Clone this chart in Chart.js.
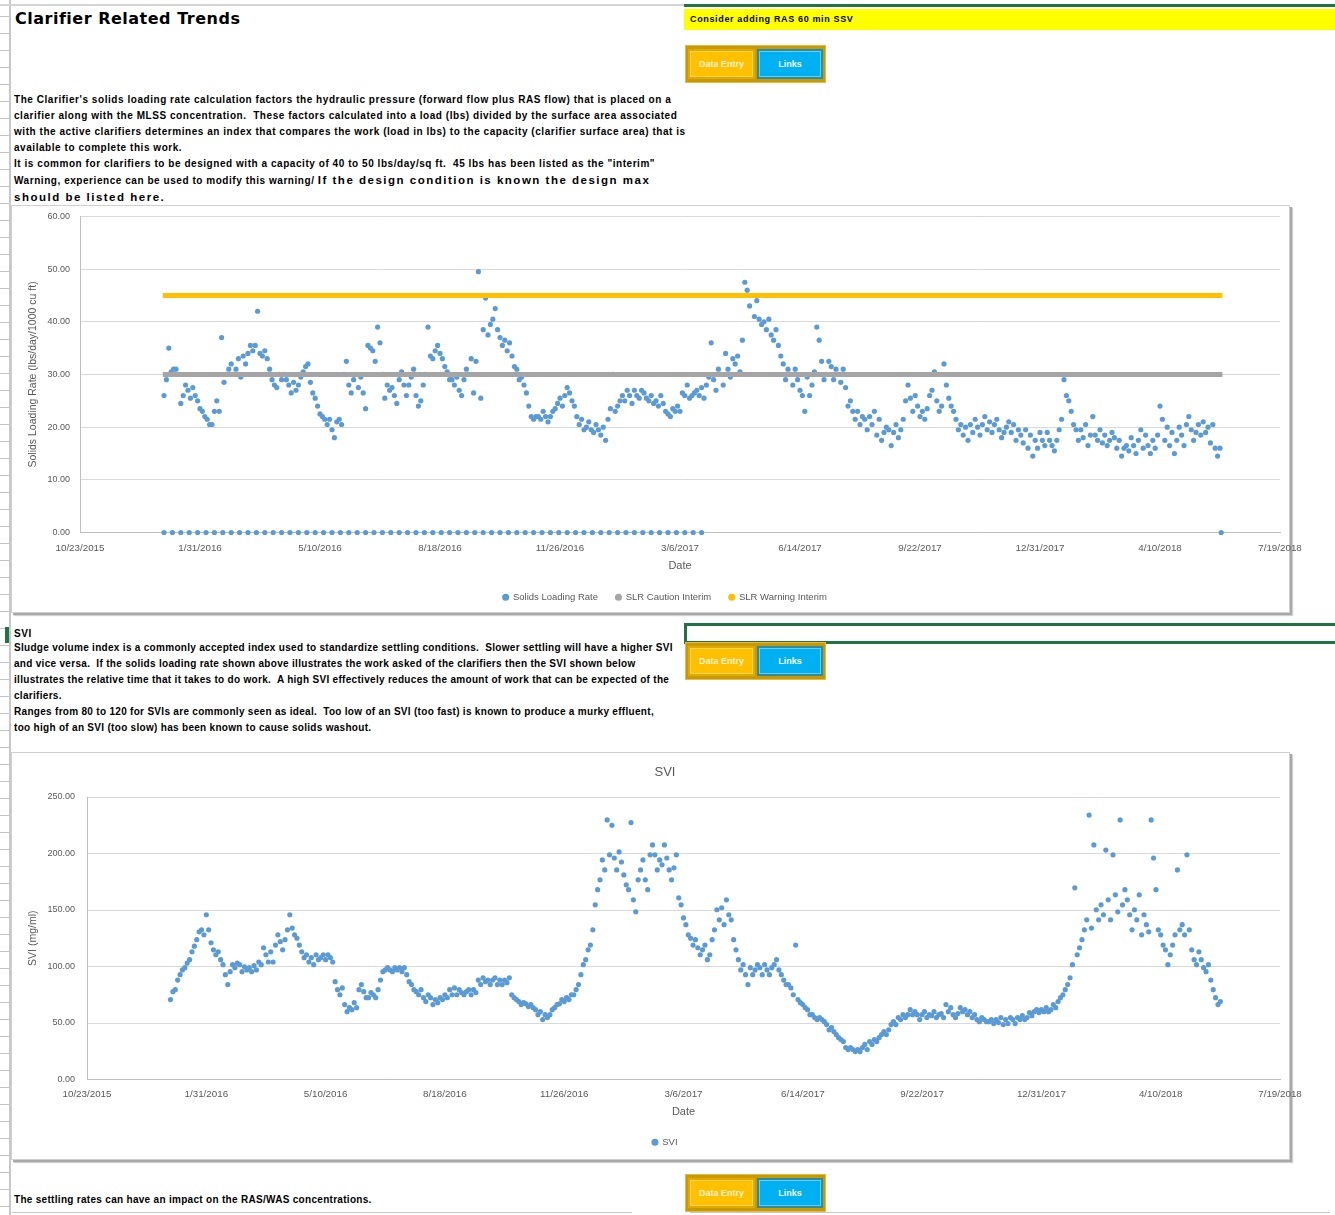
<!DOCTYPE html>
<html>
<head>
<meta charset="utf-8">
<script src="https://cdn.jsdelivr.net/npm/chart.js@4.4.1/dist/chart.umd.min.js"></script>
<style>
  html, body { margin: 0; padding: 0; background: #fff; }
  body { width: 1335px; height: 1215px; position: relative; overflow: hidden; font-family: 'Liberation Sans', Arial, sans-serif; }
  .abs { position: absolute; }
  .ruler { left: 0; top: 0; width: 9px; height: 1215px;
    background: repeating-linear-gradient(to bottom, transparent 0 16px, #c4c4c4 16px 17px);
    border-right: 2px solid #c8c8c8; }
  .topline { left: 0; top: 4px; width: 684px; height: 2px; background: #d4d4d4; }
  .title { left: 15px; top: 9px; font: bold 16px 'DejaVu Sans', sans-serif; letter-spacing: 0.5px; color: #000; }
  .para { left: 14px; font: bold 10px 'Liberation Sans', Arial, sans-serif; letter-spacing: 0.55px; color: #000; line-height: 16px; white-space: nowrap; }
  .para.tight { letter-spacing: 0.3px; }
  .big { font-size: 11.5px; letter-spacing: 1.5px; }
  .banner-g { left: 684px; top: 4px; width: 651px; height: 3px; background: #217346; }
  .banner-y { left: 684px; top: 9px; width: 651px; height: 21px; background: #ffff00;
    font: bold 9px 'Liberation Sans', Arial, sans-serif; letter-spacing: 0.65px; line-height: 21px; padding-left: 6px; box-sizing: border-box; }
  .btns { left: 685px; width: 141px; height: 38px; background: #c79a00; box-sizing: border-box; border: 1px solid #e5b84a; }
  .b { position: absolute; top: 3px; height: 30px; box-sizing: border-box; font: bold 9px 'Liberation Sans', Arial, sans-serif;
    display: flex; align-items: center; justify-content: center; }
  .de { left: 2px; width: 67px; background: #ffc000; border: 2px solid #e3a900; box-shadow: inset 0 0 0 1px #ffd35c; color: #fff3cf; }
  .lk { left: 71px; width: 66px; background: #00b0f0; border: 2px solid #2f8aa6; box-shadow: inset 0 0 0 1px #62d0f4; color: #f2fbff; }
  .box { left: 11px; width: 1279px; box-sizing: border-box; border: 1px solid #d0d0d0; background: #fff;
    box-shadow: 2px 2px 0 #a8a8a8, 3px 3px 1px #d0d0d0; }
  .sel { left: 684px; top: 623px; width: 660px; height: 21px; box-sizing: border-box; border: 3px solid #217346; }
  .mark { left: 5px; top: 627px; width: 4px; height: 16px; background: #217346; }
  canvas.chart { position: absolute; left: 0; }
</style>
</head>
<body>
<div class="abs ruler"></div>
<div class="abs topline"></div>
<div class="abs title">Clarifier Related Trends</div>

<div class="abs para" style="top:92px">
  <div>The Clarifier's solids loading rate calculation factors the hydraulic pressure (forward flow plus RAS flow) that is placed on a</div>
  <div>clarifier along with the MLSS concentration.&nbsp; These factors calculated into a load (lbs) divided by the surface area associated</div>
  <div>with the active clarifiers determines an index that compares the work (load in lbs) to the capacity (clarifier surface area) that is</div>
  <div>available to complete this work.</div>
  <div>It is common for clarifiers to be designed with a capacity of 40 to 50 lbs/day/sq ft.&nbsp; 45 lbs has been listed as the "interim"</div>
  <div>Warning, experience can be used to modify this warning/ <span class="big">If the design condition is known the design max</span></div>
  <div><span class="big">should be listed here.</span></div>
</div>

<div class="abs banner-g"></div>
<div class="abs banner-y">Consider adding RAS 60 min SSV</div>
<div class="abs btns" style="top:45px"><div class="b de">Data Entry</div><div class="b lk">Links</div></div>

<div class="abs box" style="top:205px;height:408px"></div>
<canvas id="slrChart" class="chart" style="top:201px"></canvas>

<div class="abs mark"></div>
<div class="abs para" style="top:626px">SVI</div>
<div class="abs para tight" style="top:640px">
  <div>Sludge volume index is a commonly accepted index used to standardize settling conditions.&nbsp; Slower settling will have a higher SVI</div>
  <div>and vice versa.&nbsp; If the solids loading rate shown above illustrates the work asked of the clarifiers then the SVI shown below</div>
  <div>illustrates the relative time that it takes to do work.&nbsp; A high SVI effectively reduces the amount of work that can be expected of the</div>
  <div>clarifiers.</div>
  <div>Ranges from 80 to 120 for SVIs are commonly seen as ideal.&nbsp; Too low of an SVI (too fast) is known to produce a murky effluent,</div>
  <div>too high of an SVI (too slow) has been known to cause solids washout.</div>
</div>
<div class="abs sel"></div>
<div class="abs btns" style="top:642px"><div class="b de">Data Entry</div><div class="b lk">Links</div></div>

<div class="abs box" style="top:752px;height:408px"></div>
<canvas id="sviChart" class="chart" style="top:752px"></canvas>

<div class="abs para tight" style="top:1192px">The settling rates can have an impact on the RAS/WAS concentrations.</div>
<div class="abs btns" style="top:1174px"><div class="b de">Data Entry</div><div class="b lk">Links</div></div>
<div class="abs" style="left:12px;top:1212px;width:620px;height:1px;background:#c8c8c8"></div>
<div class="abs" style="left:690px;top:1212px;width:640px;height:1px;background:#c8c8c8"></div>

<script>
// ---- data (dates are Excel serial day numbers) ----
const sampleDays = [
  42370,42372,42374,42376,42378,42380,42382,42384,42386,42388,
  42390,42392,42394,42396,42398,42400,42402,42404,42406,42408,
  42410,42412,42414,42416,42418,42420,42422,42424,42426,42428,
  42430,42432,42434,42436,42438,42440,42442,42444,42446,42448,
  42450,42452,42454,42456,42458,42460,42462,42464,42466,42468,
  42470,42472,42474,42476,42478,42480,42482,42484,42486,42488,
  42490,42492,42494,42496,42498,42500,42502,42504,42506,42508,
  42510,42512,42514,42516,42518,42520,42522,42524,42526,42528,
  42530,42532,42534,42536,42538,42540,42542,42544,42546,42548,
  42550,42552,42554,42556,42558,42560,42562,42564,42566,42568,
  42570,42572,42574,42576,42578,42580,42582,42584,42586,42588,
  42590,42592,42594,42596,42598,42600,42602,42604,42606,42608,
  42610,42612,42614,42616,42618,42620,42622,42624,42626,42628,
  42630,42632,42634,42636,42638,42640,42642,42644,42646,42648,
  42650,42652,42654,42656,42658,42660,42662,42664,42666,42668,
  42670,42672,42674,42676,42678,42680,42682,42684,42686,42688,
  42690,42692,42694,42696,42698,42700,42702,42704,42706,42708,
  42710,42712,42714,42716,42718,42720,42722,42724,42726,42728,
  42730,42732,42734,42736,42738,42740,42742,42744,42746,42748,
  42750,42752,42754,42756,42758,42760,42762,42764,42766,42768,
  42770,42772,42774,42776,42778,42780,42782,42784,42786,42788,
  42790,42792,42794,42796,42798,42800,42802,42804,42806,42808,
  42810,42812,42814,42816,42818,42820,42822,42824,42826,42828,
  42830,42832,42834,42836,42838,42840,42842,42844,42846,42848,
  42850,42852,42854,42856,42858,42860,42862,42864,42866,42868,
  42870,42872,42874,42876,42878,42880,42882,42884,42886,42888,
  42890,42892,42894,42896,42898,42900,42902,42904,42906,42908,
  42910,42912,42914,42916,42918,42920,42922,42924,42926,42928,
  42930,42932,42934,42936,42938,42940,42942,42944,42946,42948,
  42950,42952,42954,42956,42958,42960,42962,42964,42966,42968,
  42970,42972,42974,42976,42978,42980,42982,42984,42986,42988,
  42990,42992,42994,42996,42998,43000,43002,43004,43006,43008,
  43010,43012,43014,43016,43018,43020,43022,43024,43026,43028,
  43030,43032,43034,43036,43038,43040,43042,43044,43046,43048,
  43050,43052,43054,43056,43058,43060,43062,43064,43066,43068,
  43070,43072,43074,43076,43078,43080,43082,43084,43086,43088,
  43090,43092,43094,43096,43098,43100,43102,43104,43106,43108,
  43110,43112,43114,43116,43118,43120,43122,43124,43126,43128,
  43130,43132,43134,43136,43138,43140,43142,43144,43146,43148,
  43150,43152,43154,43156,43158,43160,43162,43164,43166,43168,
  43170,43172,43174,43176,43178,43180,43182,43184,43186,43188,
  43190,43192,43194,43196,43198,43200,43202,43204,43206,43208,
  43210,43212,43214,43216,43218,43220,43222,43224,43226,43228,
  43230,43232,43234,43236,43238,43240,43242,43244,43246,43248,
  43250
];

// solids loading rate, lbs/day/1000 cu ft
const slrValues = [
  26,29,35,30.5,31,31,30,24.5,26,28,
  27,25.5,27.5,26,25,23.5,23,22,21.5,20.5,
  20.5,23,25,23,37,28.5,30,31,32,30,
  31,33,29.5,33.5,32,34,35.5,34.5,35.5,42,
  34,33.5,34.5,33,31,29,28,27.5,30,29,
  30,29,28,26.5,28.5,27,28,29.5,30.5,31.5,
  32,28.5,26.5,25.5,24,22.5,22,21.5,20.5,21.5,
  19.5,18,21,21.5,20.5,30,32.5,28,26.5,29,
  30,27.5,29.5,26.5,23.5,35.5,35,34.5,32.5,39,
  36,30,25.5,28,27,27.5,26,24.5,29,30.5,
  28,26,28,29.5,31,26,24,25,28,30,
  39,33.5,33,34.5,35.5,34,33,31.5,30.5,29,
  29,28,29.5,27,26,29,31,30,33,26.5,
  32.5,49.5,25.5,38.5,44.5,37.5,39.5,40.5,42.5,38.5,
  37,35.5,36.5,34.5,36,33.5,31.5,31,29,29.5,
  28,26.5,24,22,21.5,22,22,21.5,23,22,
  21,22,23,23.5,24.5,25.5,24,26,27.5,26.5,
  25,24,22,20.5,21.5,19.5,20,21,19.5,19,
  20.5,19.5,18.5,20,17.5,21.5,23.5,30,23,24,
  25,26,25,27,26,24.5,27,26,25.5,27,
  26.5,25.5,25,26,24.5,25,24,26,24.5,23,
  22.5,22,23.5,23,24,23,26.5,26,28,25.5,
  26,26.5,27,26,27.5,25.5,28,29.5,36,29,
  27,31,30,28,34,31,29.5,33,32,33.5,
  30.5,36.5,47.5,46,43,45,41,44,40.5,39.5,
  40,38.5,40.5,37.5,36.5,38.5,35.5,33.5,32,29,
  31,30,28,31,29,27,26,23,29.5,26,
  28,30.5,39,36.5,32.5,29,30,32.5,31.5,29,
  31,30,28.5,31,27.5,24,25,23,21.5,23,
  20.5,22,21.5,19.5,22,20.5,23,18.5,21.5,17.5,
  19,20,19.5,16.5,19,20.5,18,19.5,21.5,25,
  28,25.5,23,26,24,22,23,21.5,23.5,26,
  27,30.5,25,23,24,32,28,25.5,24,23,
  21.5,19.5,20.5,18.5,20,17.5,20.5,19,21.5,20,
  18.5,20.5,22,19.5,21,19,20.5,21.5,19.5,18,
  19,20,21,19,20.5,17.5,19.5,18.5,17,19.5,
  16,18.5,14.5,17.5,16,19,17.5,16.5,19,17.5,
  16.5,15.5,17.5,19.5,21.5,29,26,25,23,20.5,
  19.5,17.5,19.5,18,20.5,16.5,18.5,22,18.5,17.5,
  19.5,17,18.5,16.5,17.5,19,18,16,17.5,14.5,
  16,16.5,15.5,18,16.5,15,17.5,19.5,16,18.5,
  16.5,15,17.5,16,18.5,24,21.5,17.5,20,16.5,
  19,15,17.5,20,18.5,16.5,20.5,22,19.5,17.5,
  19,20.5,18.5,21,19,20,17,20.5,16,14.5,
  16
];

// days with no reading (plotted as zero)
const slrZeroDays = [
  42370,42377,42384,42391,42398,42405,42412,42419,42426,42433,
  42440,42447,42454,42461,42468,42475,42482,42489,42496,42503,
  42510,42517,42524,42531,42538,42545,42552,42559,42566,42573,
  42580,42587,42594,42601,42608,42615,42622,42629,42636,42643,
  42650,42657,42664,42671,42678,42685,42692,42699,42706,42713,
  42720,42727,42734,42741,42748,42755,42762,42769,42776,42783,
  42790,42797,42804,42811,42818,43251
];
const slrZeroValues = [
  0,0,0,0,0,0,0,0,0,0, 0,0,0,0,0,0,0,0,0,0,
  0,0,0,0,0,0,0,0,0,0, 0,0,0,0,0,0,0,0,0,0,
  0,0,0,0,0,0,0,0,0,0, 0,0,0,0,0,0,0,0,0,0,
  0,0,0,0,0,0
];

const limitDays = [42369, 43252];
const cautionValues = [30, 30];
const warningValues = [45, 45];

// sludge volume index
const sviValues = [
  70.7,77.7,79.5,88,92.8,97,99,103,106,113,
  118,123.7,130.7,132.5,128,145.8,132.5,121,114.8,110.4,
  113,106,101.6,92.8,84,95.4,101.6,99,103,101.6,
  95.4,99.8,97,99,95.4,100.7,97,104,101.6,116.6,
  110.4,104,113,104,119,128,122,114.8,123.7,132.5,
  145.8,134,128,125,119,113,107.8,110.4,104,107.8,
  101.6,110.4,106,107.8,110.4,106,110.4,107.8,104,86.6,
  79.5,75,81,66.3,60,63.6,61.8,68,63.6,79.5,
  84,77.7,72.4,72.4,76.9,75,72.4,79.5,88,95.4,
  97,99,97,95.4,99,97,99,95.4,99,92.8,
  86.6,84,79.5,77.7,75,79.5,72.4,69,75,72.4,
  66.3,70.7,68,72.4,70.7,75,72.4,79.5,75,81,
  75,79.5,76.9,75,77.7,79.5,75,79.5,76.9,88,
  84,90,86.6,88,84,88,90,84,88,84,
  88,85.7,90,75,72.4,70.7,69,66.3,68,67,
  64.5,66.3,63.6,61.8,57.4,60,53,57.4,54.8,57.4,
  61.8,63.6,66.3,67,70.7,69,72.4,70.7,75,75,
  79.5,84,92.8,101.6,106,114.8,119,132.5,154.6,168,
  176.7,194.3,185.5,229.7,198.8,225,196,185.5,201.4,192.5,
  181,172.3,168,227.4,159,148.4,176.7,185.5,194.3,176.7,
  168,198.8,207.6,198.8,185.5,194.3,190,207.6,196,185.5,
  176.7,187.3,198.8,160.8,154.6,143,137,128,125,119,
  123.7,116.6,110.4,114.8,119,106,110.4,123.7,132.5,150.2,
  141.3,152,137,159,145.8,141.3,123.7,114.8,106,97,
  101.6,92.8,84,99,92.8,97,101.6,99,92.8,101.6,
  97,92.8,99,101.6,106,97,92.8,88,84,84,
  81,75,119,70.7,68,66.3,63.6,61.8,57.4,57.4,
  54.8,53,54.8,53,51.2,48.6,44,46,42.4,39.8,
  37,35.3,33.6,28.3,26.5,28.3,26.5,24.7,26.5,24.7,
  28.3,31,26.5,33.6,31,35.3,33.6,37,39.8,42.4,
  39.8,44,48.6,51.2,48.6,54.8,53,57.4,54.8,57.4,
  61.8,57.4,60,57.4,53,57.4,60,54.8,57.4,56.5,
  60,54.8,57.4,58.3,54.8,66.3,60,63.6,57.4,54.8,
  58.3,63.6,60,61.8,57.4,60,54.8,57.4,53,51.2,
  54.8,53,51.2,51.2,53,49.5,53,50.4,54.8,48.6,
  53,49.5,54.8,53,49.5,54.8,53,56.5,53,54.8,
  59.2,56.5,60,61.8,59.2,61.8,60,63.6,60,61.8,
  66.3,63.6,69,72.4,75,79.5,84,90,101.6,169.6,
  110.4,116.6,123.7,132.5,141.3,234,134,207.6,150.2,141.3,
  154.6,145.8,203,159,141.3,198.8,163.4,148.4,229.7,154.6,
  168,159,145.8,132.5,150.2,141.3,163.4,128,145.8,137,
  130.7,229.7,196,168,132.5,128,119,114.8,101.6,110.4,
  119,128,185.5,132.5,137,128,198.8,132.5,114.8,106,
  101.6,113,106,99,95.4,101.6,88,79.5,72.4,66.3,
  69
];

// x axis range (Excel serials: 10/23/2015 .. 7/19/2018)
const xMin = 42300;
const xMax = 43300;
const xStep = 100;

// ---- helpers ----
function serialToLabel(serial) {
  const d = new Date(Date.UTC(1899, 11, 30) + serial * 86400000);
  return (d.getUTCMonth() + 1) + '/' + d.getUTCDate() + '/' + d.getUTCFullYear();
}
function pairs(xs, ys) {
  return xs.map((x, i) => ({ x: x, y: ys[i] }));
}

Chart.defaults.font.family = "'Liberation Sans', Arial, sans-serif";
Chart.defaults.color = '#595959';

const BLUE = '#5b9bd5';
const GRID = '#d9d9d9';

function legendOpts(pad) {
  return {
    position: 'bottom',
    labels: {
      usePointStyle: true,
      boxWidth: 5,
      boxHeight: 5,
      padding: pad,
      font: { size: 9.5 },
      color: '#595959',
      sort: (a, b) => a.datasetIndex - b.datasetIndex,
      generateLabels: (chart) => Chart.defaults.plugins.legend.labels.generateLabels(chart)
        .map(item => Object.assign(item, { pointStyle: 'circle', lineWidth: 0 }))
    }
  };
}

function xScale(height, pad) {
  return {
    type: 'linear',
    min: xMin, max: xMax,
    afterFit: (s) => { s.height = height; },
    ticks: { stepSize: xStep, autoSkip: false, maxRotation: 0, padding: pad,
      font: { size: 9.8 }, color: '#595959', callback: (v) => serialToLabel(v) },
    grid: { display: false, drawTicks: false },
    border: { display: true, color: '#bfbfbf' },
    title: { display: true, text: 'Date', font: { size: 11 }, color: '#595959', padding: { top: 4, bottom: 2 } }
  };
}

function yScale(width, max, step, title, pad) {
  return {
    min: 0, max: max,
    afterFit: (s) => { s.width = width; },
    ticks: { stepSize: step, padding: pad, font: { size: 9 }, color: '#595959',
      callback: (v) => Number(v).toFixed(2) },
    grid: { color: GRID, drawTicks: false },
    border: { display: true, color: '#bfbfbf' },
    title: { display: true, text: title, font: { size: 10.5 }, color: '#595959', padding: { top: 3, bottom: 0 } }
  };
}

// empty right-hand spacer axis: widens the legend/title box so they centre like the original
function spacer(width) {
  return {
    position: 'right', display: true,
    afterFit: (s) => { s.width = width; },
    ticks: { display: false },
    grid: { display: false, drawTicks: false },
    border: { display: false }
  };
}

// ---- chart 1: solids loading rate ----
const c1 = document.getElementById('slrChart');
c1.width = 1335; c1.height = 414;
c1.style.width = '1335px'; c1.style.height = '414px';
new Chart(c1, {
  type: 'scatter',
  data: {
    datasets: [
      { label: 'Solids Loading Rate', data: pairs(sampleDays, slrValues).concat(pairs(slrZeroDays, slrZeroValues)),
        backgroundColor: BLUE, borderColor: BLUE, pointRadius: 2.6, pointBorderWidth: 0, pointHoverRadius: 2.6,
        clip: false, order: 3 },
      { label: 'SLR Caution Interim', data: pairs(limitDays, cautionValues), showLine: true,
        borderColor: '#a5a5a5', backgroundColor: '#a5a5a5', borderWidth: 5, pointRadius: 0, order: 2 },
      { label: 'SLR Warning Interim', data: pairs(limitDays, warningValues), showLine: true,
        borderColor: '#ffc000', backgroundColor: '#ffc000', borderWidth: 5, pointRadius: 0, order: 1 }
    ]
  },
  options: {
    responsive: false, animation: false,
    layout: { padding: { left: 24, right: 29, top: 9, bottom: 3 } },
    scales: {
      x: xScale(42, 10),
      y: yScale(56, 60, 10, 'Solids Loading Rate (lbs/day/1000 cu ft)', 10),
      side: spacer(26)
    },
    plugins: { legend: legendOpts(18), tooltip: { enabled: false } }
  }
});

// ---- chart 2: SVI ----
const c2 = document.getElementById('sviChart');
c2.width = 1335; c2.height = 408;
c2.style.width = '1335px'; c2.style.height = '408px';
new Chart(c2, {
  type: 'scatter',
  data: {
    datasets: [
      { label: 'SVI', data: pairs(sampleDays, sviValues),
        backgroundColor: BLUE, borderColor: BLUE, pointRadius: 2.6, pointBorderWidth: 0, pointHoverRadius: 2.6, clip: false }
    ]
  },
  options: {
    responsive: false, animation: false,
    layout: { padding: { left: 24, right: 29, top: 0, bottom: 3 } },
    scales: {
      x: xScale(41, 9),
      y: yScale(63, 250, 50, 'SVI (mg/ml)', 12),
      side: spacer(26)
    },
    plugins: {
      title: { display: true, text: 'SVI', font: { size: 13, weight: 'normal' }, color: '#595959',
        padding: { top: 13, bottom: 16.4 } },
      legend: legendOpts(17),
      tooltip: { enabled: false }
    }
  }
});
</script>
</body>
</html>
